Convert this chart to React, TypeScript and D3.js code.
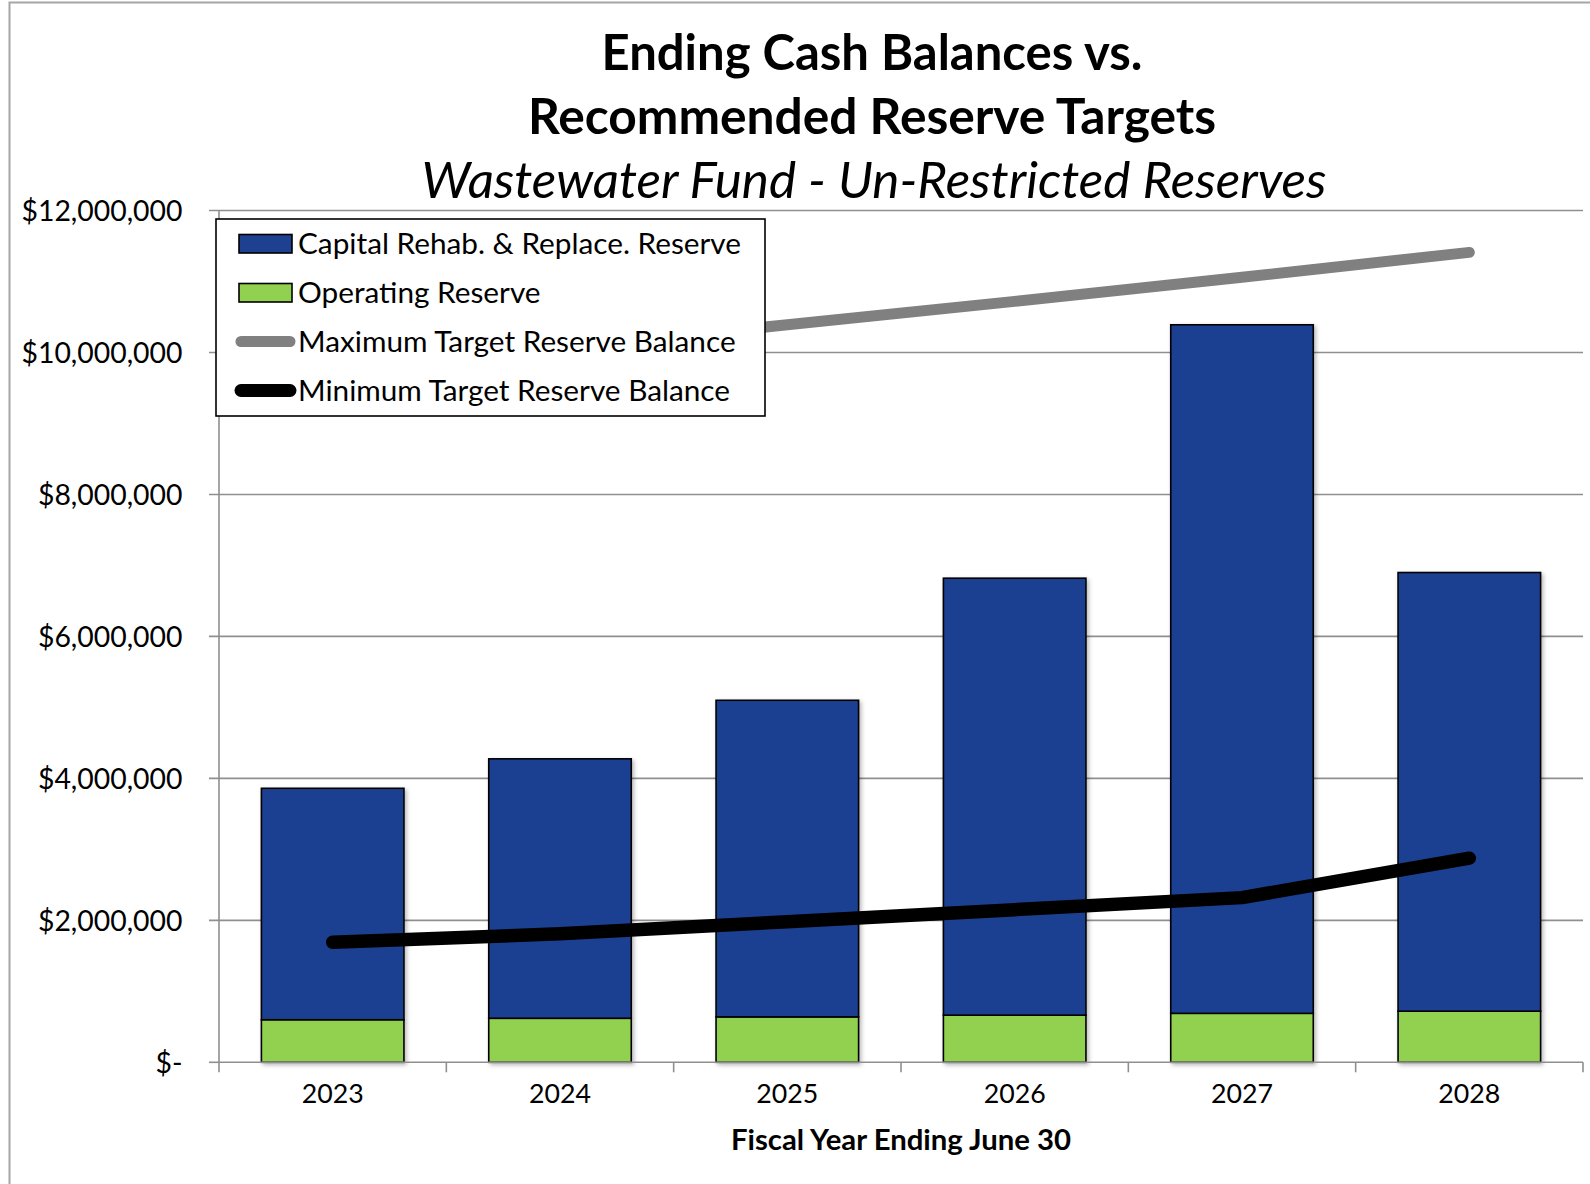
import React, { useLayoutEffect, useRef, useState } from 'react';
import * as d3 from 'd3';

// ---------------- data ----------------
const years = ['2023', '2024', '2025', '2026', '2027', '2028'];
const operatingReserve = [600000, 620000, 640000, 665000, 690000, 720000];
const capitalReserve = [3260000, 3655000, 4460000, 6155000, 9700000, 6180000];
const maxTarget = [9750000, 10060000, 10390000, 10720000, 11060000, 11410000];
const minTarget = [1690000, 1810000, 1980000, 2150000, 2320000, 2875000];
const yTicks = [0, 2000000, 4000000, 6000000, 8000000, 10000000, 12000000];
const legendLabels = [
  'Capital Rehab. & Replace. Reserve',
  'Operating Reserve',
  'Maximum Target Reserve Balance',
  'Minimum Target Reserve Balance',
];
const titleLines = ['Ending Cash Balances vs.', 'Recommended Reserve Targets'];
const subtitle = 'Wastewater Fund - Un-Restricted Reserves';
const xAxisTitle = 'Fiscal Year Ending June 30';

// ---------------- style ----------------
const W = 1590;
const H = 1184;
const FONT = "Lato, 'Open Sans', sans-serif";
const BLUE = '#1D4091';
const GREEN = '#92D050';
const GRAY_LINE = '#808080';
const GRID = '#8f8f8f';
const M = { left: 219, right: 1583, top: 210.5, bottom: 1062.3 };

const TARGETS: Record<string, number> = {
  title1: 541,
  title2: 688,
  title3: 905,
  axisTitle: 340,
  yTick: 161,
  xTick: 62,
  legend: 443,
};
const INIT: Record<string, number> = {
  title1: 48,
  title2: 48,
  title3: 44,
  axisTitle: 28,
  yTick: 28,
  xTick: 28,
  legend: 28,
};

export default function App() {
  const refs = useRef<Record<string, SVGTextElement | null>>({});
  const [sizes, setSizes] = useState<Record<string, number>>(INIT);

  useLayoutEffect(() => {
    const fit = () => {
      const next: Record<string, number> = { ...INIT };
      for (const k of Object.keys(TARGETS)) {
        const el = refs.current[k];
        if (!el) continue;
        const cur = parseFloat(el.getAttribute('font-size') || String(INIT[k]));
        const w = el.getComputedTextLength();
        next[k] = w > 0 ? (cur * TARGETS[k]) / w : cur;
      }
      setSizes(next);
    };
    fit();
    const fonts = (document as any).fonts;
    if (fonts && fonts.ready) fonts.ready.then(() => requestAnimationFrame(fit));
  }, []);

  const x = d3
    .scaleBand<string>()
    .domain(years)
    .range([M.left, M.right])
    .paddingInner(0.373)
    .paddingOuter(0.1865);
  const y = d3.scaleLinear().domain([0, 12000000]).range([M.bottom, M.top]);

  const rows = years.map((yr, i) => ({
    year: yr,
    operating: operatingReserve[i],
    capital: capitalReserve[i],
  }));
  const stacked = d3.stack<any>().keys(['operating', 'capital'])(rows);
  const colors: Record<string, string> = { operating: GREEN, capital: BLUE };

  const cx = (yr: string) => (x(yr) as number) + x.bandwidth() / 2;
  const line = d3
    .line<number>()
    .x((_, i) => cx(years[i]))
    .y((v) => y(v));

  const fmt = (v: number) => (v === 0 ? '$-' : d3.format('$,')(v));
  const step = x.step();
  const boundaries = d3.range(years.length + 1).map((i) => M.left + i * step);

  // legend layout
  const LG = { x: 216, y: 219, w: 549, h: 197, rowY0: 243.5, rowDy: 49, textX: 298 };

  return (
    <svg
      width={W}
      height={H}
      style={{ position: 'absolute', left: 0, top: 0, background: '#fff' }}
      fontFamily={FONT}
    >
      <defs>
        <filter id="shadow" x="-10%" y="-10%" width="130%" height="130%">
          <feDropShadow dx="2" dy="2" stdDeviation="2" floodColor="#000" floodOpacity="0.28" />
        </filter>
      </defs>
      <rect x={0} y={0} width={W} height={H} fill="#fff" />
      {/* outer frame */}
      <path d={`M9.5,${H} V2.5 H${W}`} fill="none" stroke="#a6a6a6" strokeWidth={2} />

      {/* title */}
      <text
        ref={(el) => (refs.current.title1 = el)}
        x={872}
        y={70}
        textAnchor="middle"
        fontWeight="bold"
        fontSize={sizes.title1}
        fill="#000"
      >
        {titleLines[0]}
      </text>
      <text
        ref={(el) => (refs.current.title2 = el)}
        x={872}
        y={134}
        textAnchor="middle"
        fontWeight="bold"
        fontSize={sizes.title2}
        fill="#000"
      >
        {titleLines[1]}
      </text>
      <text
        ref={(el) => (refs.current.title3 = el)}
        x={874}
        y={198}
        textAnchor="middle"
        fontStyle="italic"
        fontSize={sizes.title3}
        fill="#000"
      >
        {subtitle}
      </text>

      {/* gridlines + y ticks */}
      {yTicks.map((t) => (
        <g key={t}>
          <line
            x1={M.left - 10}
            x2={t === 0 ? M.left : M.right}
            y1={y(t)}
            y2={y(t)}
            stroke={GRID}
            strokeWidth={1.6}
          />
          <text
            ref={t === 12000000 ? (el) => (refs.current.yTick = el) : undefined}
            x={182.5}
            y={y(t)}
            dy="0.36em"
            textAnchor="end"
            fontSize={sizes.yTick}
            fill="#000"
          >
            {fmt(t)}
          </text>
        </g>
      ))}
      {/* y axis */}
      <line x1={M.left} x2={M.left} y1={M.top} y2={M.bottom} stroke={GRID} strokeWidth={1.6} />

      {/* bars */}
      <g filter="url(#shadow)">
        {stacked.map((s) =>
          s.map((d, i) => (
            <rect
              key={s.key + i}
              x={x(years[i])}
              y={y(d[1])}
              width={x.bandwidth()}
              height={y(d[0]) - y(d[1])}
              fill={colors[s.key]}
              stroke="#000"
              strokeWidth={1.6}
            />
          ))
        )}
      </g>

      {/* x axis */}
      <line x1={M.left} x2={M.right} y1={M.bottom} y2={M.bottom} stroke={GRID} strokeWidth={1.6} />
      {boundaries.map((bx, i) => (
        <line key={i} x1={bx} x2={bx} y1={M.bottom} y2={M.bottom + 10} stroke={GRID} strokeWidth={1.6} />
      ))}
      {years.map((yr, i) => (
        <text
          key={yr}
          ref={i === 4 ? (el) => (refs.current.xTick = el) : undefined}
          x={cx(yr)}
          y={1103}
          textAnchor="middle"
          fontSize={sizes.xTick}
          fill="#000"
        >
          {yr}
        </text>
      ))}
      <text
        ref={(el) => (refs.current.axisTitle = el)}
        x={(M.left + M.right) / 2}
        y={1150}
        textAnchor="middle"
        fontWeight="bold"
        fontSize={sizes.axisTitle}
        fill="#000"
      >
        {xAxisTitle}
      </text>

      {/* lines */}
      <path
        d={line(maxTarget) || ''}
        fill="none"
        stroke={GRAY_LINE}
        strokeWidth={11}
        strokeLinecap="round"
        strokeLinejoin="round"
      />
      <path
        d={line(minTarget) || ''}
        fill="none"
        stroke="#000"
        strokeWidth={13.5}
        strokeLinecap="round"
        strokeLinejoin="round"
      />

      {/* legend */}
      <g>
        <rect x={LG.x} y={LG.y} width={LG.w} height={LG.h} fill="#fff" stroke="#000" strokeWidth={1.6} />
        {legendLabels.map((lab, i) => {
          const cy = LG.rowY0 + i * LG.rowDy;
          return (
            <g key={lab}>
              {i < 2 ? (
                <rect
                  x={239}
                  y={cy - 9}
                  width={53}
                  height={18.5}
                  fill={i === 0 ? BLUE : GREEN}
                  stroke="#000"
                  strokeWidth={1.6}
                />
              ) : (
                <line
                  x1={241}
                  x2={290}
                  y1={cy}
                  y2={cy}
                  stroke={i === 2 ? GRAY_LINE : '#000'}
                  strokeWidth={i === 2 ? 11 : 13}
                  strokeLinecap="round"
                />
              )}
              <text
                ref={i === 0 ? (el) => (refs.current.legend = el) : undefined}
                x={LG.textX}
                y={cy}
                dy="0.36em"
                fontSize={sizes.legend}
                fill="#000"
              >
                {lab}
              </text>
            </g>
          );
        })}
      </g>
    </svg>
  );
}
